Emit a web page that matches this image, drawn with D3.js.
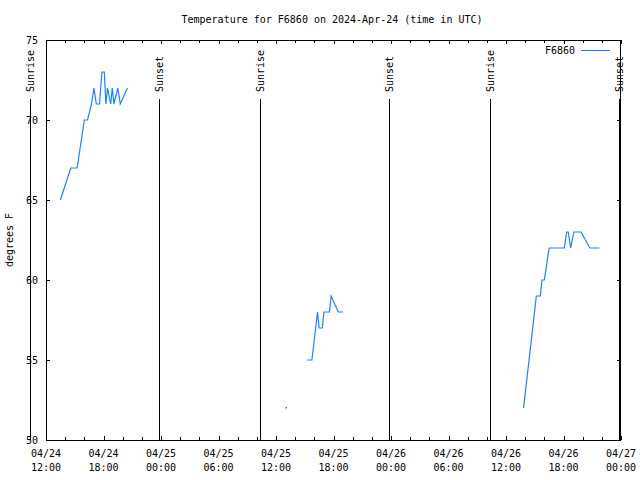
<!DOCTYPE html>
<html><head><meta charset="utf-8">
<script src="https://cdn.jsdelivr.net/npm/d3@7"></script>
<style>
body{margin:0;background:#fff;}
text{font-family:"DejaVu Sans Mono",monospace;font-size:10px;fill:#000;}
</style></head>
<body><svg id="c" width="640" height="480"></svg>
<script>
// ---- data ----
const title = "Temperature for F6860 on 2024-Apr-24 (time in UTC)";
const seriesName = "F6860";
const seg1Times = ["2024-04-24 13:30","2024-04-24 14:35","2024-04-24 15:15","2024-04-24 16:00","2024-04-24 16:20","2024-04-24 16:45","2024-04-24 17:00","2024-04-24 17:15","2024-04-24 17:35","2024-04-24 17:50","2024-04-24 18:05","2024-04-24 18:15","2024-04-24 18:25","2024-04-24 18:45","2024-04-24 18:55","2024-04-24 19:05","2024-04-24 19:30","2024-04-24 19:45","2024-04-24 20:30"];
const seg1Temps = [65,67,67,70,70,71,72,71,71,73,73,71,72,71,72,71,72,71,72];
const seg2Times = ["2024-04-25 13:05"];
const seg2Temps = [52];
const seg3Times = ["2024-04-25 15:15","2024-04-25 15:45","2024-04-25 16:20","2024-04-25 16:30","2024-04-25 16:50","2024-04-25 17:00","2024-04-25 17:35","2024-04-25 17:45","2024-04-25 18:30","2024-04-25 19:00"];
const seg3Temps = [55,55,58,57,57,58,58,59,58,58];
const seg4Times = ["2024-04-26 13:50","2024-04-26 15:10","2024-04-26 15:35","2024-04-26 15:45","2024-04-26 16:00","2024-04-26 16:30","2024-04-26 18:05","2024-04-26 18:20","2024-04-26 18:30","2024-04-26 18:45","2024-04-26 19:05","2024-04-26 19:50","2024-04-26 20:45","2024-04-26 21:45"];
const seg4Temps = [52,59,59,60,60,62,62,63,63,62,63,63,62,62];
const sunriseTimes = ["2024-04-24 10:22","2024-04-25 10:22","2024-04-26 10:22"];
const sunsetTimes = ["2024-04-24 23:49","2024-04-25 23:48","2024-04-26 23:50"];
const xDomain = ["2024-04-24 12:00","2024-04-27 00:00"];
const yDomain = [50,75];
const yTicks = [50,55,60,65,70,75];
const yLabel = "degrees F";

// ---- chart ----
const parse = d3.utcParse("%Y-%m-%d %H:%M");
const svg = d3.select("#c");
const L=46,R=621,T=40,B=440;
const x = d3.scaleUtc().domain(xDomain.map(parse)).range([L,R]);
const y = d3.scaleLinear().domain(yDomain).range([B,T]);
const color = "#1a82ff";

svg.append("text").attr("x",332).attr("y",23).attr("text-anchor","middle").text(title);

const majors = d3.utcHour.every(6).range(x.domain()[0], new Date(+x.domain()[1]+1));
const minors = d3.utcHour.every(2).range(x.domain()[0], new Date(+x.domain()[1]+1));
const fmtD = d3.utcFormat("%m/%d"), fmtH = d3.utcFormat("%H:%M");

function axisG(){ return svg.append("g").attr("shape-rendering","crispEdges"); }
// bottom minor + major
const gb = axisG().attr("transform",`translate(0,${B})`);
gb.call(d3.axisBottom(x).tickValues(minors).tickSize(-3).tickFormat(""));
const gb2 = axisG().attr("transform",`translate(0,${B})`);
gb2.call(d3.axisBottom(x).tickValues(majors).tickSize(-4).tickFormat(""));
const gt = axisG().attr("transform",`translate(0,${T})`);
gt.call(d3.axisTop(x).tickValues(minors).tickSize(-3).tickFormat(""));
const gt2 = axisG().attr("transform",`translate(0,${T})`);
gt2.call(d3.axisTop(x).tickValues(majors).tickSize(-4).tickFormat(""));
const gl = axisG().attr("transform",`translate(${L},0)`);
gl.call(d3.axisLeft(y).tickValues(yTicks).tickSize(-4).tickFormat(""));
const gr = axisG().attr("transform",`translate(${R},0)`);
gr.call(d3.axisRight(y).tickValues(yTicks).tickSize(-4).tickFormat(""));
svg.selectAll(".domain").remove();
svg.selectAll(".tick line").attr("stroke","#000");

// x labels
const xl = svg.append("g");
majors.forEach(d=>{
  const t = xl.append("text").attr("x",x(d)).attr("text-anchor","middle");
  t.append("tspan").attr("x",x(d)).attr("y",457).text(fmtD(d));
  t.append("tspan").attr("x",x(d)).attr("y",471).text(fmtH(d));
});
// y labels
yTicks.forEach(v=>{
  svg.append("text").attr("x",38).attr("y",y(v)+4).attr("text-anchor","end").text(v);
});
svg.append("text").attr("transform",`translate(13,240) rotate(-90)`).attr("text-anchor","middle").text(yLabel);

// frame
svg.append("rect").attr("x",L+0.5).attr("y",T+0.5).attr("width",R-L-1).attr("height",B-T)
  .attr("fill","none").attr("stroke","#000").attr("shape-rendering","crispEdges");

// sun lines
function sunLine(ts,label){
  ts.forEach(s=>{
    const xx = Math.round(x(parse(s)))+0.5;
    svg.append("line").attr("x1",xx).attr("x2",xx).attr("y1",99).attr("y2",B)
      .attr("stroke","#000").attr("shape-rendering","crispEdges");
    svg.append("text").attr("transform",`translate(${xx+3.5},92) rotate(-90)`).attr("text-anchor","start").text(label);
  });
}
sunLine(sunriseTimes,"Sunrise");
sunLine(sunsetTimes,"Sunset");

// series
const line = d3.line().x(d=>x(d[0])).y(d=>y(d[1]));
[[seg1Times,seg1Temps],[seg3Times,seg3Temps],[seg4Times,seg4Temps]].forEach(([ts,vs])=>{
  const pts = ts.map((t,i)=>[parse(t),vs[i]]);
  svg.append("path").attr("d",line(pts)).attr("fill","none").attr("stroke",color).attr("stroke-width",1.2);
});
seg2Times.forEach((t,i)=>{
  svg.append("rect").attr("x",Math.round(x(parse(t)))-0.5).attr("y",Math.round(y(seg2Temps[i]))-1)
    .attr("width",1.5).attr("height",1.5).attr("fill",color);
});

// legend
svg.append("text").attr("x",575).attr("y",54).attr("text-anchor","end").text(seriesName);
svg.append("line").attr("x1",581).attr("x2",610).attr("y1",50.5).attr("y2",50.5).attr("stroke",color).attr("shape-rendering","crispEdges");
</script></body></html>
